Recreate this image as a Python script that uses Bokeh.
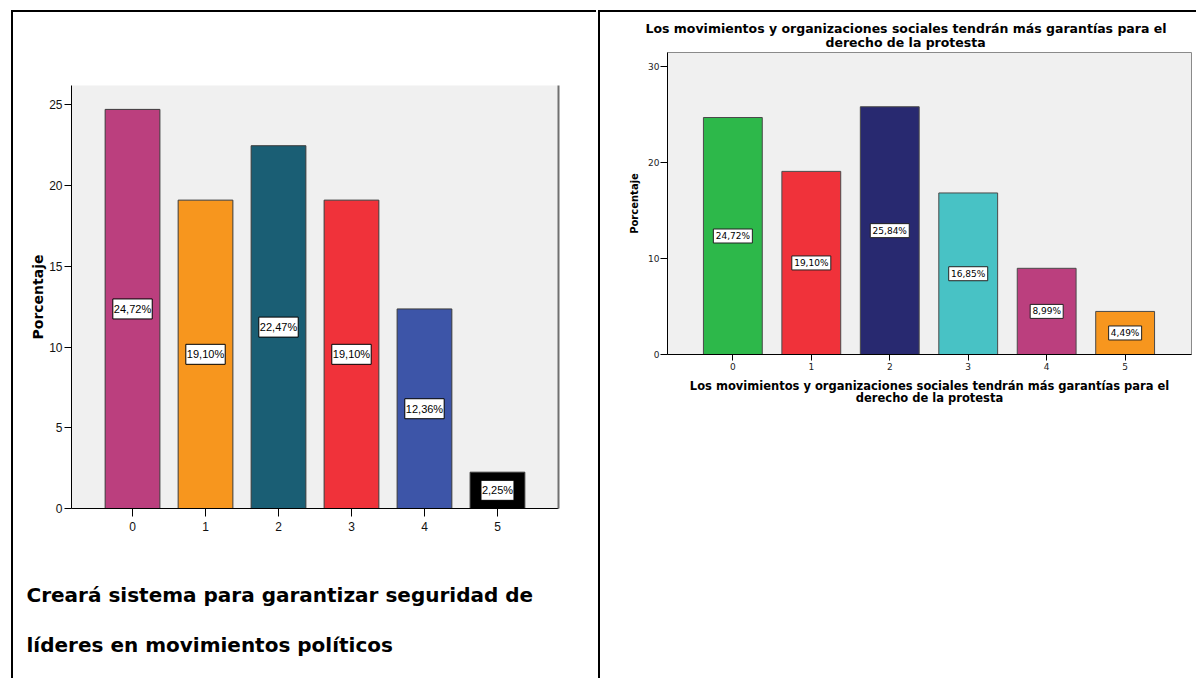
from bokeh.plotting import figure
from bokeh.models import ColumnDataSource, LinearAxis, Title, Range1d, FixedTicker
from bokeh.core.properties import value
from bokeh.embed import file_html
from bokeh.resources import INLINE

# ---------------- data ----------------
categories = [0, 1, 2, 3, 4, 5]
left_values = [24.72, 19.10, 22.47, 19.10, 12.36, 2.25]
left_colors = ["#BB3F7E", "#F7961E", "#1A5E74", "#F0323A", "#3D55A8", "#000000"]
right_values = [24.72, 19.10, 25.84, 16.85, 8.99, 4.49]
right_colors = ["#2DB84A", "#F0323A", "#282970", "#48C2C5", "#BB3F7E", "#F7961E"]
left_yticks = [0, 5, 10, 15, 20, 25]
right_yticks = [0, 10, 20, 30]
y_label = "Porcentaje"
left_caption = ["Creará sistema para garantizar seguridad de",
                "líderes en movimientos políticos"]
right_title_lines = ["Los movimientos y organizaciones sociales tendrán más garantías para el",
                     "derecho de la protesta"]
right_xlabel_lines = right_title_lines


def pct(v):
    return ("%.2f" % v).replace(".", ",") + "%"


SANS = "Liberation Sans"
WIDE = "DejaVu Sans"

# ---------------- left chart ----------------
lsrc = ColumnDataSource(dict(
    x=categories, top=left_values, color=left_colors,
    mid=[v / 2 for v in left_values],
    label=[pct(v) for v in left_values],
    bw=[6.4 * len(pct(v)) + 1 for v in left_values],
))

left = figure(width=585, height=668,
              x_range=Range1d(-0.836, 5.836), y_range=Range1d(0, 26.2),
              output_backend="svg", toolbar_location=None,
              min_border_left=58, min_border_right=40,
              min_border_top=73, min_border_bottom=172,
              background_fill_color="#F0F0F0", border_fill_color="white",
              outline_line_color=None)
left.grid.visible = False
left.vbar(x="x", top="top", width=0.75, bottom=0, source=lsrc,
          fill_color="color", line_color="#3a3a3a", line_width=1)
left.rect(x="x", y="mid", width="bw", height=20, width_units="screen",
          height_units="screen", source=lsrc, fill_color="white",
          line_color="black", line_width=1)
left.text(x="x", y="mid", text="label", source=lsrc, text_align="center",
          text_baseline="middle", text_font=value(SANS),
          text_font_size="11px", text_color="black")

for ax in (left.xaxis[0], left.yaxis[0]):
    ax.axis_line_color = "black"
    ax.axis_line_width = 1
    ax.major_tick_line_color = "black"
    ax.minor_tick_line_color = None
    ax.major_tick_in = 0
    ax.major_label_text_font = SANS
    ax.major_label_text_font_size = "12px"
    ax.major_label_text_color = "#111111"
left.xaxis.ticker = FixedTicker(ticks=categories)
left.xaxis.major_tick_out = 8
left.xaxis.major_label_standoff = 5
left.yaxis.ticker = FixedTicker(ticks=left_yticks)
left.yaxis.major_tick_out = 7
left.yaxis.major_label_standoff = 2
left.yaxis.axis_label = y_label
left.yaxis.axis_label_text_font = WIDE
left.yaxis.axis_label_text_font_style = "bold"
left.yaxis.axis_label_text_font_size = "14px"
left.yaxis.axis_label_text_color = "black"
left.yaxis.axis_label_standoff = 0

rax = LinearAxis(ticker=FixedTicker(ticks=[]), axis_line_color="#707070",
                 axis_line_width=2, major_tick_line_color=None,
                 minor_tick_line_color=None, major_label_text_font_size="0px")
left.add_layout(rax, "right")

left.styles = {"position": "absolute", "left": "11px", "top": "10px",
               "border-top": "2px solid black",
               "border-left": "2px solid black"}

# ---------------- caption under the left chart ----------------
csrc = ColumnDataSource(dict(text=left_caption, x=[13, 13], y=[34, 84]))
cap = figure(width=585, height=110, x_range=Range1d(0, 585),
             y_range=Range1d(110, 0), output_backend="svg",
             toolbar_location=None, min_border=0,
             x_axis_location=None, y_axis_location=None,
             background_fill_color="white", border_fill_color="white",
             outline_line_color=None)
cap.grid.visible = False
cap.text(x="x", y="y", text="text", source=csrc, text_align="left",
         text_baseline="alphabetic", text_font=value(WIDE),
         text_font_size="20px", text_font_style="bold", text_color="black")
cap.styles = {"position": "absolute", "left": "13px", "top": "560px"}

# ---------------- right chart ----------------
rsrc = ColumnDataSource(dict(
    x=categories, top=right_values, color=right_colors,
    mid=[v / 2 for v in right_values],
    label=[pct(v) for v in right_values],
    bw=[6 * len(pct(v)) + 3 for v in right_values],
))

right = figure(width=598, height=668,
               x_range=Range1d(-0.833, 5.846), y_range=Range1d(0, 31.5),
               output_backend="svg", toolbar_location=None,
               min_border_left=67, min_border_right=7,
               min_border_top=40, min_border_bottom=326,
               background_fill_color="#F0F0F0", border_fill_color="white",
               outline_line_color="#8a8a8a", outline_line_width=1)
right.grid.visible = False
right.vbar(x="x", top="top", width=0.75, bottom=0, source=rsrc,
           fill_color="color", line_color="#4a4a4a", line_width=1)
right.rect(x="x", y="mid", width="bw", height=14, width_units="screen",
           height_units="screen", source=rsrc, fill_color="white",
           line_color="#222222", line_width=1)
right.text(x="x", y="mid", text="label", source=rsrc, text_align="center",
           text_baseline="middle", text_font=value(WIDE),
           text_font_size="9px", text_color="black")

for ax in (right.xaxis[0], right.yaxis[0]):
    ax.axis_line_color = "black"
    ax.axis_line_width = 1
    ax.major_tick_line_color = "black"
    ax.minor_tick_line_color = None
    ax.major_tick_in = 0
    ax.major_label_text_font = WIDE
    ax.major_label_text_font_size = "9px"
    ax.major_label_text_color = "#222222"
right.xaxis.ticker = FixedTicker(ticks=categories)
right.xaxis.major_tick_out = 6
right.xaxis.major_label_standoff = 2
right.yaxis.ticker = FixedTicker(ticks=right_yticks)
right.yaxis.major_tick_out = 7
right.yaxis.major_label_standoff = 1
right.yaxis.axis_label = y_label
right.yaxis.axis_label_text_font = WIDE
right.yaxis.axis_label_text_font_style = "bold"
right.yaxis.axis_label_text_font_size = "10px"
right.yaxis.axis_label_text_color = "black"
right.yaxis.axis_label_standoff = 5

# x-axis title (two centred lines)
xl1 = Title(text=right_xlabel_lines[0], align="center", text_font=WIDE,
            text_font_size="11.5px", text_font_style="bold",
            text_color="black", standoff=8)
xl2 = Title(text=right_xlabel_lines[1], align="center", text_font=WIDE,
            text_font_size="11.5px", text_font_style="bold",
            text_color="black", standoff=-17)
right.add_layout(xl1, "below")
right.add_layout(xl2, "below")

# chart title (two lines)
t_line2 = Title(text=right_title_lines[1], align="left", offset=158,
                text_font=WIDE, text_font_size="12.5px", text_font_style="bold",
                text_color="black", standoff=6)
t_line1 = Title(text=right_title_lines[0], align="left", offset=-22,
                text_font=WIDE, text_font_size="12.5px", text_font_style="bold",
                text_color="black", standoff=-12)
right.add_layout(t_line2, "above")
right.add_layout(t_line1, "above")

right.styles = {"position": "absolute", "left": "598px", "top": "10px",
                "border-top": "2px solid black",
                "border-left": "2px solid black"}

with open("out.html", "w") as f:
    f.write(file_html([left, cap, right], INLINE))
